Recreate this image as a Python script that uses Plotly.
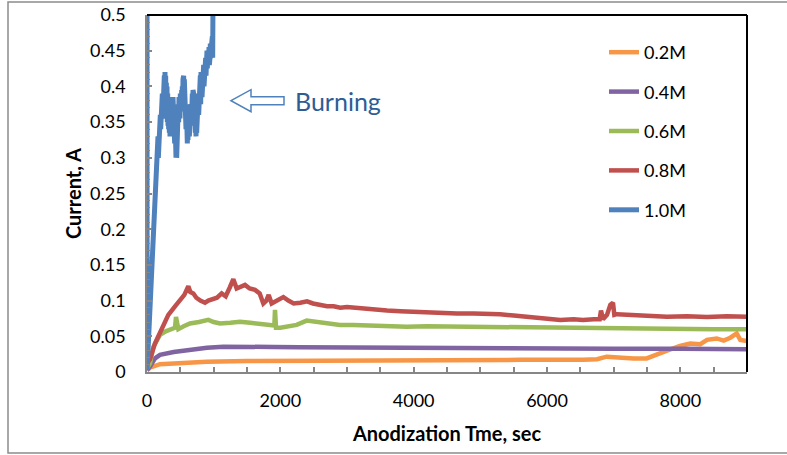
import plotly.graph_objects as go

# ---------------- data ----------------
t_02 = [0, 45, 195, 500, 895, 1500, 2295, 3000, 3800, 4545, 5000, 5600, 6540, 6750, 6895, 7100, 7300,
        7495, 7650, 7800, 7995, 8150, 8300, 8400, 8545, 8650, 8750, 8845, 8900, 9000]
i_02 = [0.002, 0.006, 0.011, 0.013, 0.0145, 0.0155, 0.016, 0.0165, 0.017, 0.0178, 0.017, 0.017, 0.017,
        0.018, 0.0215, 0.02, 0.019, 0.019, 0.025, 0.03, 0.0365, 0.04, 0.039, 0.045, 0.047, 0.044, 0.048,
        0.054, 0.045, 0.0435]

t_04 = [0, 45, 120, 195, 400, 645, 900, 1145, 1545, 1900, 2295, 3000, 4645, 6000, 7000, 8000, 9000]
i_04 = [0.003, 0.0075, 0.019, 0.024, 0.028, 0.031, 0.034, 0.0355, 0.036, 0.035, 0.0345, 0.034, 0.0335,
        0.033, 0.0325, 0.0325, 0.032]

t_06 = [0, 45, 95, 195, 280, 370, 420, 435, 450, 470, 550, 645, 780, 920, 1000, 1095, 1250, 1395, 1550,
        1695, 1850, 1910, 1920, 1935, 2000, 2100, 2245, 2395, 2500, 2650, 2895, 3100, 3400, 3700, 3895,
        4200, 4645, 5000, 5500, 6045, 6500, 7000, 7545, 8000, 8500, 9000]
i_06 = [0.005, 0.012, 0.035, 0.052, 0.057, 0.061, 0.062, 0.077, 0.065, 0.06, 0.064, 0.068, 0.07, 0.073,
        0.07, 0.068, 0.069, 0.0705, 0.069, 0.068, 0.066, 0.065, 0.087, 0.062, 0.062, 0.064, 0.066, 0.072,
        0.071, 0.069, 0.066, 0.066, 0.065, 0.064, 0.0635, 0.064, 0.0635, 0.063, 0.0625, 0.062, 0.061,
        0.061, 0.06, 0.0605, 0.06, 0.06]

t_08 = [0, 45, 120, 200, 320, 420, 495, 560, 620, 650, 695, 740, 800, 870, 920, 970, 1050, 1120, 1180,
        1240, 1295, 1345, 1400, 1470, 1540, 1620, 1690, 1745, 1790, 1825, 1870, 1950, 2045, 2120, 2200,
        2300, 2400, 2490, 2600, 2700, 2800, 2900, 3000, 3200, 3390, 3600, 3800, 4000, 4200, 4400, 4650,
        4900, 5100, 5295, 5500, 5700, 5900, 6045, 6200, 6400, 6540, 6700, 6790, 6810, 6840, 6900, 6950,
        6990, 7010, 7050, 7300, 7550, 7800, 8100, 8400, 8700, 9000]
i_08 = [0.012, 0.018, 0.04, 0.055, 0.08, 0.092, 0.1, 0.108, 0.12, 0.112, 0.11, 0.104, 0.1, 0.097, 0.1,
        0.101, 0.104, 0.11, 0.106, 0.118, 0.13, 0.117, 0.12, 0.122, 0.117, 0.115, 0.11, 0.096, 0.1, 0.108,
        0.096, 0.1, 0.105, 0.1, 0.096, 0.097, 0.099, 0.096, 0.094, 0.092, 0.092, 0.09, 0.091, 0.089,
        0.087, 0.086, 0.085, 0.084, 0.083, 0.083, 0.082, 0.082, 0.082, 0.081, 0.079, 0.077, 0.075, 0.074,
        0.073, 0.074, 0.073, 0.074, 0.074, 0.086, 0.074, 0.08, 0.094, 0.097, 0.08, 0.081, 0.08, 0.078,
        0.0775, 0.078, 0.077, 0.078, 0.0775]

t_10 = [0, 2, 60, 120, 150, 160, 165, 170, 175, 180, 185, 190, 195, 200, 205, 210, 215, 220, 225, 230,
        235, 240, 245, 250, 255, 260, 265, 270, 275, 280, 285, 290, 295, 300, 305, 310, 315, 320, 325,
        330, 335, 340, 345, 350, 355, 360, 365, 370, 375, 380, 385, 390, 395, 400, 405, 410, 415, 420,
        425, 430, 435, 440, 445, 450, 455, 460, 465, 470, 475, 480, 485, 490, 495, 500, 505, 510, 515,
        520, 525, 530, 535, 540, 545, 550, 555, 560, 565, 570, 575, 580, 585, 590, 595, 600, 605, 610,
        615, 620, 625, 630, 635, 640, 645, 650, 655, 660, 665, 670, 675, 680, 685, 690, 695, 700, 705,
        710, 715, 720, 725, 730, 735, 740, 745, 750, 755, 760, 765, 770, 775, 780, 785, 790, 795, 800,
        805, 810, 815, 820, 825, 830, 835, 840, 845, 850, 855, 860, 865, 870, 875, 880, 885, 890, 895,
        900, 905, 910, 915, 920, 925, 930, 935, 940, 945, 950, 955, 960, 965, 970, 975, 980, 985, 990,
        995, 1000, 1005, 1010, 1015, 1020, 1025, 1030, 1035, 1040, 1045]
i_10 = [0.6, 0.004, 0.12, 0.235, 0.29, 0.31, 0.33, 0.30, 0.32, 0.34, 0.31, 0.35, 0.33, 0.36, 0.34, 0.37,
        0.345, 0.38, 0.35, 0.39, 0.355, 0.395, 0.37, 0.405, 0.375, 0.415, 0.38, 0.42, 0.37, 0.415, 0.36,
        0.405, 0.355, 0.40, 0.35, 0.39, 0.345, 0.385, 0.34, 0.38, 0.335, 0.375, 0.33, 0.37, 0.335, 0.38,
        0.34, 0.375, 0.335, 0.38, 0.345, 0.385, 0.34, 0.38, 0.33, 0.37, 0.32, 0.36, 0.31, 0.35, 0.30,
        0.345, 0.30, 0.355, 0.31, 0.365, 0.34, 0.375, 0.35, 0.385, 0.36, 0.38, 0.355, 0.39, 0.36, 0.385,
        0.365, 0.395, 0.37, 0.40, 0.375, 0.41, 0.38, 0.415, 0.375, 0.41, 0.37, 0.40, 0.35, 0.39, 0.34,
        0.375, 0.33, 0.365, 0.32, 0.36, 0.325, 0.365, 0.33, 0.355, 0.33, 0.36, 0.335, 0.37, 0.34, 0.375,
        0.345, 0.385, 0.35, 0.39, 0.355, 0.395, 0.36, 0.39, 0.36, 0.385, 0.345, 0.375, 0.335, 0.365,
        0.33, 0.36, 0.335, 0.37, 0.34, 0.375, 0.35, 0.39, 0.36, 0.40, 0.365, 0.41, 0.37, 0.415, 0.375,
        0.42, 0.38, 0.415, 0.385, 0.42, 0.39, 0.425, 0.395, 0.43, 0.40, 0.43, 0.405, 0.435, 0.41, 0.44,
        0.415, 0.445, 0.42, 0.45, 0.425, 0.445, 0.43, 0.45, 0.435, 0.455, 0.43, 0.45, 0.44, 0.46, 0.44,
        0.455, 0.445, 0.46, 0.45, 0.47, 0.44, 0.52]

series_names = ["0.2M", "0.4M", "0.6M", "0.8M", "1.0M"]
series_t = [t_02, t_04, t_06, t_08, t_10]
series_i = [i_02, i_04, i_06, i_08, i_10]
series_colors = ["#F79646", "#8064A2", "#9BBB59", "#C0504D", "#4F81BD"]
series_widths = [4.5, 4.5, 4.5, 4.5, 5]

x_ticks = [0, 2000, 4000, 6000, 8000]
y_ticks = [0, 0.05, 0.1, 0.15, 0.2, 0.25, 0.3, 0.35, 0.4, 0.45, 0.5]
y_tick_text = ["0", "0.05", "0.1", "0.15", "0.2", "0.25", "0.3", "0.35", "0.4", "0.45", "0.5"]

annot_text = "Burning"
annot_x = 1260   # arrow tip (sec)
annot_y = 0.38   # arrow level (A)

FONT = "Lato"
AXIS_GRAY = "#868686"

fig = go.Figure()
for name, tt, ii, col, lw in zip(series_names, series_t, series_i, series_colors, series_widths):
    fig.add_trace(go.Scatter(x=tt, y=ii, mode="lines", name=name, legendgroup=name,
                             line=dict(color=col, width=lw), hoverinfo="skip"))

# plot area at page pixels x 147..747, y 15..372 (body margin removed by post_script)
W, H = 787, 455
L, T = 147, 15
pw, ph = 600, 357
R = W - L - pw
B = H - T - ph

def px_to_paper_x(px):
    return (px - L) / pw

def px_to_paper_y(py):
    return (T + ph - py) / ph

fig.update_layout(
    width=W, height=H,
    margin=dict(l=L, r=R, t=T, b=B, autoexpand=False),
    paper_bgcolor="white", plot_bgcolor="white",
    font=dict(family=FONT, size=18, color="#000000"),
    showlegend=True,
    hovermode=False,
    legend=dict(x=px_to_paper_x(604), y=px_to_paper_y(34), xanchor="left", yanchor="top",
                font=dict(family=FONT, size=18, color="#000000"),
                tracegroupgap=13, bgcolor="rgba(0,0,0,0)", traceorder="grouped",
                itemwidth=30),
    xaxis=dict(range=[0, 9000], tickvals=x_ticks, showgrid=False, zeroline=False,
               showline=True, linecolor=AXIS_GRAY, linewidth=1.5,
               ticks="inside", ticklen=5, tickcolor=AXIS_GRAY, tickwidth=1.5,
               minor=dict(dtick=500, ticks="inside", ticklen=5, tickcolor=AXIS_GRAY, tickwidth=1.5),
               ticklabelstandoff=12, ticklabeloverflow="allow",
               title=dict(text="<b>Anodization Tme, sec</b>", font=dict(family=FONT, size=20), standoff=17)),
    yaxis=dict(range=[0, 0.5], tickvals=y_ticks, ticktext=y_tick_text, showgrid=False, zeroline=False,
               showline=True, linecolor=AXIS_GRAY, linewidth=1.5,
               ticks="inside", ticklen=5, tickcolor=AXIS_GRAY, tickwidth=1.5,
               minor=dict(dtick=0.01, ticks="inside", ticklen=3, tickcolor=AXIS_GRAY, tickwidth=1),
               ticklabelstandoff=16, ticklabeloverflow="allow",
               title=dict(text="<b>Current, A</b>", font=dict(family=FONT, size=20), standoff=3)),
)

# plot-area top & right border (black), outer chart frame (gray)
fig.add_shape(type="line", xref="paper", yref="paper", x0=0, x1=1, y0=1, y1=1,
              line=dict(color="black", width=2))
fig.add_shape(type="line", xref="paper", yref="paper", x0=1, x1=1, y0=0, y1=1,
              line=dict(color="black", width=2))
fig.add_shape(type="rect", xref="paper", yref="paper",
              x0=px_to_paper_x(8), x1=px_to_paper_x(800), y0=px_to_paper_y(453), y1=px_to_paper_y(2),
              line=dict(color="#8C8C8C", width=1.5), fillcolor="rgba(0,0,0,0)", layer="below")

# hollow arrow for the "Burning" note (data coordinates)
px_x = 9000 / pw          # sec per pixel
px_y = 0.5 / ph           # A per pixel
head_len, head_h, shaft_h, total_len = 20, 11, 4, 53
xa = annot_x
pts = [(xa, annot_y),
       (xa + head_len * px_x, annot_y + head_h * px_y),
       (xa + head_len * px_x, annot_y + shaft_h * px_y),
       (xa + total_len * px_x, annot_y + shaft_h * px_y),
       (xa + total_len * px_x, annot_y - shaft_h * px_y),
       (xa + head_len * px_x, annot_y - shaft_h * px_y),
       (xa + head_len * px_x, annot_y - head_h * px_y)]
path = "M " + " L ".join(f"{p[0]:.2f},{p[1]:.5f}" for p in pts) + " Z"
fig.add_shape(type="path", xref="x", yref="y", path=path,
              line=dict(color="#4F81BD", width=1.5), fillcolor="white")
fig.add_annotation(x=xa + (total_len + 9) * px_x, y=annot_y, xref="x", yref="y",
                   text=annot_text, showarrow=False, xanchor="left", yanchor="middle",
                   font=dict(family=FONT, size=25, color="#2E5D95"))

fig.write_html("out.html", config={"displayModeBar": False},
               post_script="document.body.style.margin='0';document.body.style.overflow='hidden';")
